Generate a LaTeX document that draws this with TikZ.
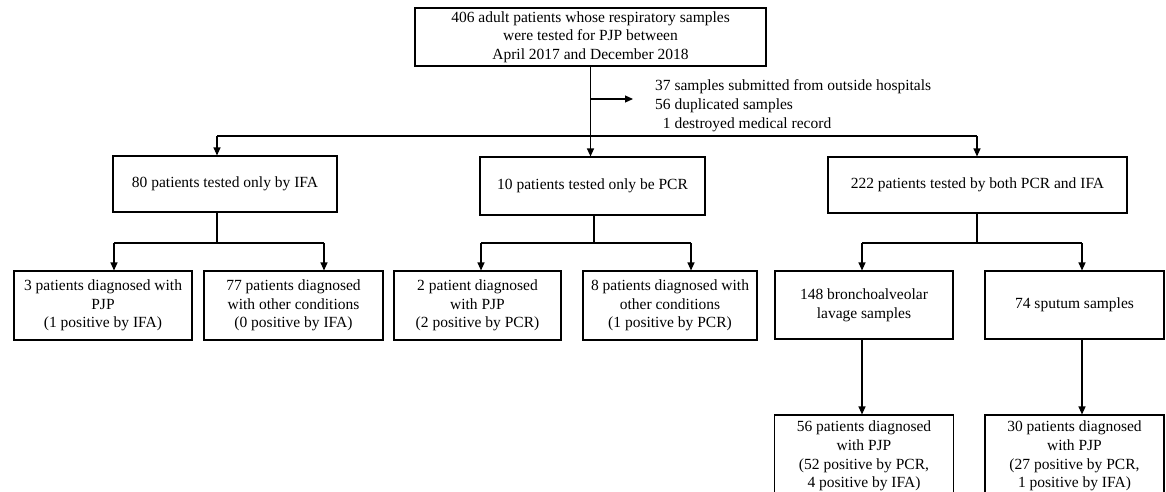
\documentclass[tikz,border=0pt]{standalone}
\usepackage{fontspec}
\setmainfont{Liberation Serif}
\usetikzlibrary{arrows.meta,positioning,calc}

\tikzset{
	box/.style={draw, line width=1.1pt, align=center, inner sep=0pt,
		font=\fontsize{15.5}{18.6}\selectfont},
	arr/.style={line width=1.1pt, -{Triangle[length=8pt,width=7pt]}},
	link/.style={line width=1.1pt}
}

\begin{document}
\begin{tikzpicture}[x=1pt,y=-1pt]
		\useasboundingbox (0,0) rectangle (1166,492);
		% screening
		\node[box, minimum width=351pt, minimum height=58pt] (top) at (590.5,37) {406 adult patients whose respiratory samples\\were tested for PJP between\\April 2017 and December 2018};
		\node[anchor=west, align=left, inner sep=0pt, font=\fontsize{15.5}{19}\selectfont] (excl) at (655,106) {37 samples submitted from outside hospitals\\56 duplicated samples\\\hspace*{0.5em}1 destroyed medical record};
		% tested groups
		\node[box, minimum width=224pt, minimum height=56pt] (n80) at (225,184) {80 patients tested only by IFA};
		\node[box, minimum width=225pt, minimum height=58pt] (n10) at (592.5,186) {10 patients tested only be PCR};
		\node[box, minimum width=299pt, minimum height=56pt] (n222) at (977.5,185) {222 patients tested by both PCR and IFA};
		% diagnoses
		\node[box, minimum width=178pt, minimum height=69pt] (pjpA) at (103,305.5) {3 patients diagnosed with\\PJP\\(1 positive by IFA)};
		\node[box, minimum width=179pt, minimum height=69pt] (othA) at (293.5,305.5) {77 patients diagnosed\\with other conditions\\(0 positive by IFA)};
		\node[box, minimum width=167pt, minimum height=69pt] (pjpB) at (477.5,305.5) {2 patient diagnosed\\with PJP\\(2 positive by PCR)};
		\node[box, minimum width=174pt, minimum height=69pt] (othB) at (670,305.5) {8 patients diagnosed with\\other conditions\\(1 positive by PCR)};
		\node[box, minimum width=178pt, minimum height=68pt] (bal) at (864,305) {148 bronchoalveolar\\lavage samples};
		\node[box, minimum width=179pt, minimum height=68pt] (spu) at (1074.5,305) {74 sputum samples};
		\node[box, minimum width=179pt, minimum height=82pt] (pjpC) at (864,456) {56 patients diagnosed\\with PJP\\(52 positive by PCR,\\4 positive by IFA)};
		\node[box, minimum width=179pt, minimum height=82pt] (pjpD) at (1074.5,456) {30 patients diagnosed\\with PJP\\(27 positive by PCR,\\1 positive by IFA)};
		% branch points
		\coordinate (exc) at (633,99);
		\coordinate (d80) at (217,136);
		\coordinate (d222) at (977,136);
		\coordinate (s80) at (217,243);
		\coordinate (s10) at (594,243);
		\coordinate (s222) at (977,243);
		\coordinate (a1) at (114,243);
		\coordinate (a2) at (324,243);
		\coordinate (b1) at (481,243);
		\coordinate (b2) at (691,243);
		\coordinate (c1) at (862,243);
		\coordinate (c2) at (1082,243);
		% connectors
		\draw[link] (top.south) -- (top.south |- d80);
		\draw[arr] (top.south |- exc) -- (exc);
		\draw[link] (d80) -- (d222);
		\draw[arr] (d80) -- (d80 |- n80.north);
		\draw[arr] (top.south |- d80) -- (top.south |- n10.north);
		\draw[arr] (d222) -- (d222 |- n222.north);
		\draw[link] (s80 |- n80.south) -- (s80);
		\draw[link] (a1) -- (a2);
		\draw[arr] (a1) -- (a1 |- pjpA.north);
		\draw[arr] (a2) -- (a2 |- othA.north);
		\draw[link] (s10 |- n10.south) -- (s10);
		\draw[link] (b1) -- (b2);
		\draw[arr] (b1) -- (b1 |- pjpB.north);
		\draw[arr] (b2) -- (b2 |- othB.north);
		\draw[link] (s222 |- n222.south) -- (s222);
		\draw[link] (c1) -- (c2);
		\draw[arr] (c1) -- (c1 |- bal.north);
		\draw[arr] (c2) -- (c2 |- spu.north);
		\draw[arr] (c1 |- bal.south) -- (c1 |- pjpC.north);
		\draw[arr] (c2 |- spu.south) -- (c2 |- pjpD.north);
\end{tikzpicture}
\end{document}
